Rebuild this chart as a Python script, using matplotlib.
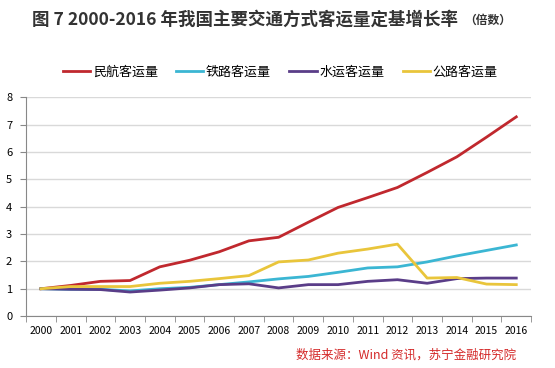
import matplotlib
matplotlib.use('Agg')
import matplotlib.pyplot as plt
import numpy as np

plt.rcParams['font.family'] = ['Noto Sans CJK SC', 'DejaVu Sans']

years = [str(y) for y in range(2000, 2017)]
air = [1.0, 1.12, 1.27, 1.3, 1.8, 2.04, 2.35, 2.75, 2.88, 3.43, 3.97, 4.33, 4.7, 5.25, 5.82, 6.54, 7.28]
rail = [1.0, 0.98, 0.98, 0.92, 1.0, 1.05, 1.15, 1.25, 1.36, 1.45, 1.6, 1.76, 1.8, 1.98, 2.2, 2.4, 2.6]
water = [1.0, 0.98, 0.97, 0.88, 0.95, 1.03, 1.15, 1.18, 1.03, 1.15, 1.15, 1.27, 1.33, 1.2, 1.37, 1.39, 1.39]
road = [1.0, 1.08, 1.08, 1.08, 1.2, 1.27, 1.37, 1.48, 1.98, 2.05, 2.3, 2.45, 2.63, 1.39, 1.41, 1.17, 1.15]
names = ['民航客运量', '铁路客运量', '水运客运量', '公路客运量']
colors = ['#C0282E', '#3BB6D3', '#5A3D88', '#E9C53B']

fig = plt.figure(figsize=(5.55, 3.68), dpi=100)
ax = fig.add_axes([0.047, 0.141, 0.91, 0.595])

x = np.arange(len(years))
for vals, name, c in zip([air, rail, water, road], names, colors):
    ax.plot(x, vals, color=c, lw=2, label=name)

ax.set_xlim(-0.5, len(years) - 0.5)
ax.set_ylim(0, 8)
ax.set_yticks(range(0, 9))
ax.set_xticks(x)
ax.set_xticklabels(years)
ax.set_xticks(np.arange(-0.5, len(years)), minor=True)
ax.tick_params(axis='x', which='major', length=0, labelsize=7.5, pad=7)
ax.tick_params(axis='x', which='minor', length=4, color='#888888', direction='out')
ax.tick_params(axis='y', labelsize=8, length=4, color='#888888', pad=6)
ax.grid(axis='y', color='#d9d9d9', lw=1)
ax.set_axisbelow(True)
for s in ['top', 'right']:
    ax.spines[s].set_visible(False)
for s in ['left', 'bottom']:
    ax.spines[s].set_color('#888888')

fig.legend(loc='center left', bbox_to_anchor=(0.113, 0.804), ncol=4, frameon=False,
           fontsize=9.4, handlelength=2.1, handletextpad=0.2, columnspacing=1.4,
           borderpad=0, borderaxespad=0)

fig.text(0.058, 0.946, '图 7 2000-2016 年我国主要交通方式客运量定基增长率', ha='left', va='center',
         fontsize=12.6, fontweight='bold', color='#333333')
fig.text(0.836, 0.944, '（倍数）', ha='left', va='center', fontsize=8.5, fontweight='bold', color='#333333')
fig.text(0.93, 0.035, '数据来源：Wind 资讯，苏宁金融研究院', ha='right', va='center',
         fontsize=9, color='#D42A2A', style='italic')

fig.savefig('out.png', dpi=100)
